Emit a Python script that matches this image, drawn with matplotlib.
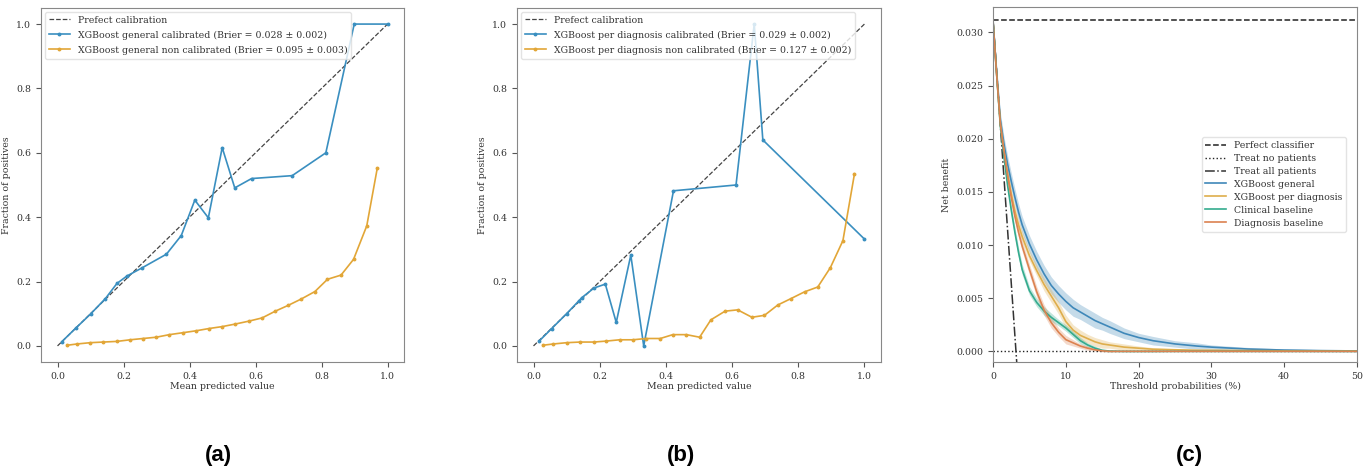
import matplotlib
matplotlib.use("Agg")
import matplotlib.pyplot as plt
import numpy as np

plt.rcParams.update({
    "font.family": "DejaVu Serif",
    "font.stretch": "condensed",
    "font.size": 7,
    "axes.labelsize": 7.5,
    "xtick.labelsize": 7.5,
    "ytick.labelsize": 7.5,
    "legend.fontsize": 7.5,
    "axes.edgecolor": "#888888",
    "xtick.color": "#555555",
    "ytick.color": "#555555",
    "xtick.labelcolor": "#333333",
    "ytick.labelcolor": "#333333",
    "text.color": "#333333",
    "axes.labelcolor": "#333333",
})

BLUE = "#3a8fc0"
GOLD = "#e2a637"
C_BLUE = "#3f88b9"
C_GOLD = "#deae4c"
C_GREEN = "#34ab8e"
C_ORANGE = "#dc8250"

# ---- (a) general model calibration
a_cal_x = [0.013, 0.055, 0.10, 0.145, 0.18, 0.21, 0.257, 0.33, 0.375, 0.416,
           0.457, 0.499, 0.537, 0.588, 0.711, 0.813, 0.899, 1.0]
a_cal_y = [0.013, 0.055, 0.099, 0.147, 0.194, 0.217, 0.243, 0.285, 0.343, 0.453,
           0.398, 0.616, 0.491, 0.52, 0.529, 0.60, 1.0, 1.0]
a_raw_x = [0.029, 0.059, 0.099, 0.139, 0.18, 0.22, 0.259, 0.299, 0.339, 0.38,
           0.42, 0.459, 0.499, 0.539, 0.58, 0.62, 0.66, 0.699, 0.739, 0.78,
           0.818, 0.859, 0.897, 0.937, 0.969]
a_raw_y = [0.002, 0.006, 0.010, 0.012, 0.014, 0.019, 0.023, 0.027, 0.035, 0.041,
           0.047, 0.054, 0.060, 0.068, 0.077, 0.087, 0.108, 0.126, 0.146, 0.169,
           0.207, 0.220, 0.269, 0.373, 0.553]

# ---- (b) per-diagnosis model calibration
b_cal_x = [0.018, 0.055, 0.10, 0.136, 0.146, 0.183, 0.217, 0.25, 0.294, 0.333,
           0.423, 0.612, 0.667, 0.693, 1.0]
b_cal_y = [0.016, 0.054, 0.10, 0.139, 0.15, 0.18, 0.192, 0.073, 0.282, 0.0,
           0.482, 0.50, 1.0, 0.64, 0.332]
b_raw_x = [0.028, 0.06, 0.10, 0.141, 0.183, 0.22, 0.26, 0.30, 0.341, 0.383,
           0.421, 0.462, 0.502, 0.536, 0.579, 0.617, 0.66, 0.698, 0.738, 0.778,
           0.819, 0.859, 0.897, 0.935, 0.97]
b_raw_y = [0.002, 0.006, 0.010, 0.012, 0.012, 0.015, 0.019, 0.019, 0.023, 0.023,
           0.035, 0.035, 0.027, 0.081, 0.108, 0.112, 0.089, 0.095, 0.127, 0.147,
           0.168, 0.183, 0.243, 0.327, 0.535]

# ---- (c) decision curves (threshold in %)
thresholds = [0, 0.5, 1, 1.5, 2, 2.5, 3, 3.5, 4, 5, 6, 7, 8, 9, 10, 11, 12, 13,
              14, 15, 16, 18, 20, 22, 25, 28, 30, 35, 40, 45, 50]
nb_general = [0.0310, 0.0262, 0.0218, 0.0195, 0.0176, 0.0160, 0.0145, 0.0131,
              0.0119, 0.0101, 0.0086, 0.0073, 0.0062, 0.0054, 0.0047, 0.0041,
              0.0037, 0.0033, 0.0029, 0.0026, 0.0023, 0.0017, 0.0013, 0.0010,
              0.0007, 0.0005, 0.0004, 0.00022, 0.00012, 0.00007, 0.00004]
sd_general = [0.0003, 0.0006, 0.0007, 0.0007, 0.0008, 0.0008, 0.0008, 0.0008,
              0.0008, 0.0008, 0.0008, 0.0008, 0.0008, 0.0008, 0.0008, 0.0008,
              0.0007, 0.0007, 0.0007, 0.0006, 0.0006, 0.0005, 0.0004, 0.0004,
              0.0003, 0.0003, 0.0002, 0.00015, 0.00012, 0.0001, 0.00008]
nb_perdiag = [0.0310, 0.0260, 0.0214, 0.0189, 0.0167, 0.0148, 0.0132, 0.0119,
              0.0108, 0.0090, 0.0076, 0.0063, 0.0052, 0.0041, 0.0028, 0.0020,
              0.0015, 0.0012, 0.0009, 0.0007, 0.0006, 0.0004, 0.0003, 0.0002,
              0.00015, 0.0001, 0.0001, 0.00007, 0.00005, 0.00004, 0.00003]
sd_perdiag = [0.0003, 0.0005, 0.0005, 0.0005, 0.0005, 0.0005, 0.0005, 0.0005,
              0.0005, 0.0005, 0.0005, 0.0006, 0.0006, 0.0006, 0.0006, 0.0005,
              0.0005, 0.0004, 0.0004, 0.0004, 0.0003, 0.0003, 0.0002, 0.00015,
              0.0001, 0.0001, 0.0001, 0.00008, 0.00006, 0.00005, 0.00005]
nb_clinical = [0.0310, 0.0260, 0.0212, 0.0183, 0.0156, 0.0133, 0.0112, 0.0093,
               0.0077, 0.0057, 0.0046, 0.0038, 0.0032, 0.0027, 0.0022, 0.0016,
               0.0010, 0.0006, 0.0003, 0.0001, 0.00003, 0, 0, 0, 0, 0, 0, 0,
               0, 0, 0]
sd_clinical = [0.0003, 0.0005, 0.0005, 0.0005, 0.0005, 0.0005, 0.0005, 0.0005,
               0.0005, 0.0004, 0.0004, 0.0004, 0.0004, 0.0003, 0.0003, 0.0003,
               0.0003, 0.0002, 0.0002, 0.0001, 0.0001, 0.00005, 0.00005, 0.00005,
               0, 0, 0, 0, 0, 0, 0]
nb_diagnosis = [0.0310, 0.0260, 0.0214, 0.0188, 0.0165, 0.0145, 0.0127, 0.0112,
                0.0099, 0.0077, 0.0056, 0.0039, 0.0027, 0.0018, 0.0011, 0.0008,
                0.0005, 0.0003, 0.00015, 0.00005, 0, 0, 0, 0, 0, 0, 0, 0, 0, 0, 0]
sd_diagnosis = [0.0003, 0.0005, 0.0005, 0.0005, 0.0005, 0.0005, 0.0005, 0.0005,
                0.0005, 0.0005, 0.0005, 0.0005, 0.0005, 0.0004, 0.0004, 0.0003,
                0.0002, 0.0002, 0.0001, 0.0001, 0.00005, 0, 0, 0, 0, 0, 0, 0, 0,
                0, 0]
prevalence = 0.0312
treat_all_x = [0, 3.3]
treat_all_y = [0.0312, -0.0015]

fig = plt.figure(figsize=(13.72, 4.75), dpi=100)
ax_a = fig.add_axes([0.0299, 0.2379, 0.2646, 0.7453])
ax_b = fig.add_axes([0.3768, 0.2379, 0.2653, 0.7453])
ax_c = fig.add_axes([0.7238, 0.2379, 0.2653, 0.7474])


def calib_panel(ax, cx, cy, rx, ry, lab_cal, lab_raw):
    ax.plot([0, 1], [0, 1], "--", color="#444444", lw=0.9, label="Prefect calibration")
    ax.plot(cx, cy, "-", marker="o", ms=1.8, color=BLUE, lw=1.2, label=lab_cal)
    ax.plot(rx, ry, "-", marker="o", ms=1.8, color=GOLD, lw=1.2, label=lab_raw)
    ax.set_xlim(-0.05, 1.05)
    ax.set_ylim(-0.05, 1.05)
    ax.set_xticks([0, 0.2, 0.4, 0.6, 0.8, 1.0])
    ax.set_yticks([0, 0.2, 0.4, 0.6, 0.8, 1.0])
    ax.set_xlabel("Mean predicted value", labelpad=1)
    ax.set_ylabel("Fraction of positives")
    ax.legend(loc="upper left", frameon=True, edgecolor="#dddddd",
              borderpad=0.35, handlelength=2.0, labelspacing=0.55,
              borderaxespad=0.4)


calib_panel(ax_a, a_cal_x, a_cal_y, a_raw_x, a_raw_y,
            "XGBoost general calibrated (Brier = 0.028 \u00b1 0.002)",
            "XGBoost general non calibrated (Brier = 0.095 \u00b1 0.003)")
calib_panel(ax_b, b_cal_x, b_cal_y, b_raw_x, b_raw_y,
            "XGBoost per diagnosis calibrated (Brier = 0.029 \u00b1 0.002)",
            "XGBoost per diagnosis non calibrated (Brier = 0.127 \u00b1 0.002)")

# decision curve panel
t = np.array(thresholds)
ax_c.axhline(prevalence, ls="--", color="#222222", lw=1.1, label="Perfect classifier")
ax_c.axhline(0, ls=":", color="#222222", lw=1.0, label="Treat no patients")
ax_c.plot(treat_all_x, treat_all_y, "-.", color="#333333", lw=1.1, label="Treat all patients")
series = [
    (nb_general, sd_general, C_BLUE, "XGBoost general"),
    (nb_perdiag, sd_perdiag, C_GOLD, "XGBoost per diagnosis"),
    (nb_clinical, sd_clinical, C_GREEN, "Clinical baseline"),
    (nb_diagnosis, sd_diagnosis, C_ORANGE, "Diagnosis baseline"),
]
for nb, sd, col, lab in series:
    nb = np.array(nb)
    sd = np.array(sd)
    ax_c.fill_between(t, nb - sd, nb + sd, color=col, alpha=0.3, lw=0)
    ax_c.plot(t, nb, color=col, lw=1.2, label=lab)
ax_c.set_xlim(0, 50)
ax_c.set_ylim(-0.001, 0.0324)
ax_c.set_xticks([0, 10, 20, 30, 40, 50])
ax_c.set_yticks([0, 0.005, 0.010, 0.015, 0.020, 0.025, 0.030])
ax_c.set_yticklabels(["0.000", "0.005", "0.010", "0.015", "0.020", "0.025", "0.030"])
ax_c.set_xlabel("Threshold probabilities (%)", labelpad=1)
ax_c.set_ylabel("Net benefit")
ax_c.legend(loc="center right", frameon=True, edgecolor="#dddddd",
            borderpad=0.35, handlelength=2.0, labelspacing=0.35,
            bbox_to_anchor=(0.985, 0.50))

for ax, lab, xc in [(ax_a, "(a)", 0.159), (ax_b, "(b)", 0.496), (ax_c, "(c)", 0.867)]:
    fig.text(xc, 0.042, lab, ha="center", va="center", fontsize=16,
             fontweight="bold", family="Liberation Sans", fontstretch="normal",
             color="black")

fig.savefig("out.png", dpi=100)
plt.close(fig)
